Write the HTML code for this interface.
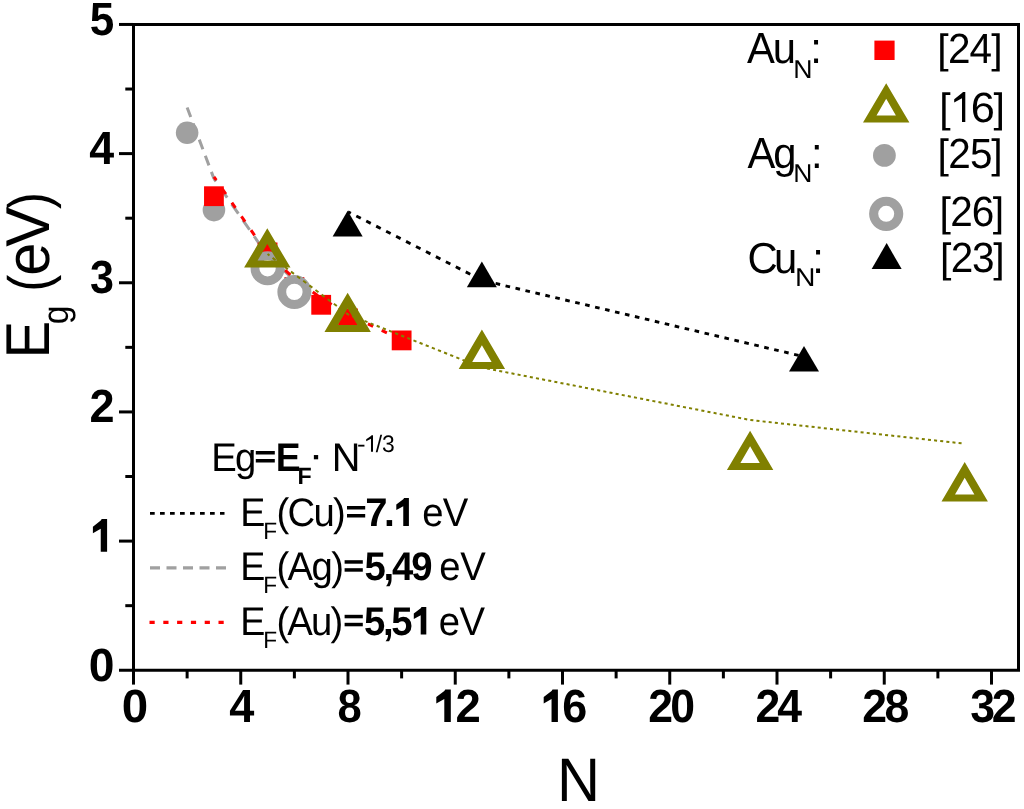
<!DOCTYPE html>
<html><head><meta charset="utf-8"><style>
html,body{margin:0;padding:0;background:#fff;overflow:hidden;width:1024px;height:809px;}
svg{display:block;will-change:transform;}
text{font-family:"Liberation Sans",sans-serif;text-rendering:geometricPrecision;}
</style></head><body>
<svg width="1024" height="809" viewBox="0 0 1024 809">
<line x1="187.12" y1="107.45" x2="213.94" y2="178.60" stroke="#a0a0a0" stroke-width="3" stroke-dasharray="10.259 6.946" stroke-dashoffset="0.000"/>
<line x1="213.94" y1="178.60" x2="267.56" y2="255.57" stroke="#a0a0a0" stroke-width="3" stroke-dasharray="11.700 7.922" stroke-dashoffset="8.226"/>
<line x1="267.56" y1="255.57" x2="294.38" y2="280.02" stroke="#a0a0a0" stroke-width="3" stroke-dasharray="12.992 8.797" stroke-dashoffset="4.367"/>
<line x1="213.94" y1="176.80" x2="267.56" y2="254.06" stroke="#ff0000" stroke-width="3" stroke-dasharray="6.330 10.469" stroke-dashoffset="2.191"/>
<line x1="267.56" y1="254.06" x2="294.38" y2="278.60" stroke="#ff0000" stroke-width="3" stroke-dasharray="7.049 11.658" stroke-dashoffset="13.634"/>
<line x1="294.38" y1="278.60" x2="321.19" y2="298.22" stroke="#ff0000" stroke-width="3" stroke-dasharray="6.443 10.656" stroke-dashoffset="11.486"/>
<line x1="321.19" y1="298.22" x2="348.00" y2="314.41" stroke="#ff0000" stroke-width="3" stroke-dasharray="6.075 10.047" stroke-dashoffset="9.910"/>
<line x1="348.00" y1="314.41" x2="401.62" y2="339.92" stroke="#ff0000" stroke-width="3" stroke-dasharray="5.758 9.523" stroke-dashoffset="8.521"/>
<line x1="348.00" y1="211.73" x2="482.06" y2="280.24" stroke="#000" stroke-width="2.9" stroke-dasharray="5.054 6.120" stroke-dashoffset="1.853"/>
<line x1="482.06" y1="280.24" x2="803.81" y2="356.63" stroke="#000" stroke-width="2.9" stroke-dasharray="4.625 5.601" stroke-dashoffset="6.539"/>
<circle cx="187.125" cy="132.7" r="11.3" fill="#a0a0a0"/>
<circle cx="213.9375" cy="210.1" r="11.3" fill="#a0a0a0"/>
<rect x="204.04" y="186.30" width="19.8" height="19.8" fill="#ff0000"/>
<rect x="257.66" y="242.50" width="19.8" height="19.8" fill="#ff0000"/>
<rect x="284.48" y="277.00" width="19.8" height="19.8" fill="#ff0000"/>
<rect x="311.29" y="294.90" width="19.8" height="19.8" fill="#ff0000"/>
<rect x="338.10" y="308.50" width="19.8" height="19.8" fill="#ff0000"/>
<rect x="391.73" y="330.50" width="19.8" height="19.8" fill="#ff0000"/>
<circle cx="267.5625" cy="268.2" r="12.6" fill="#fff" stroke="#a0a0a0" stroke-width="8.8"/>
<circle cx="294.375" cy="291.9" r="12.6" fill="#fff" stroke="#a0a0a0" stroke-width="8.8"/>
<line x1="267.56" y1="254.06" x2="348.00" y2="314.41" stroke="#808000" stroke-width="2" stroke-dasharray="3.751 3.907" stroke-dashoffset="1.375"/>
<line x1="348.00" y1="314.41" x2="482.06" y2="367.58" stroke="#808000" stroke-width="2" stroke-dasharray="3.227 3.362" stroke-dashoffset="2.057"/>
<line x1="482.06" y1="367.58" x2="750.19" y2="420.00" stroke="#808000" stroke-width="2" stroke-dasharray="3.057 3.184" stroke-dashoffset="1.248"/>
<line x1="750.19" y1="420.00" x2="964.69" y2="443.70" stroke="#808000" stroke-width="2" stroke-dasharray="3.018 3.144" stroke-dashoffset="6.011"/>
<path d="M267.30,228.30 L290.50,267.60 L244.10,267.60 Z M267.30,243.90 L277.00,260.60 L257.60,260.60 Z" fill="#808000" fill-rule="evenodd"/>
<path d="M347.65,292.80 L370.85,332.10 L324.45,332.10 Z M347.65,308.40 L357.35,325.10 L337.95,325.10 Z" fill="#808000" fill-rule="evenodd"/>
<path d="M481.90,329.60 L505.10,368.90 L458.70,368.90 Z M481.90,345.20 L491.60,361.90 L472.20,361.90 Z" fill="#808000" fill-rule="evenodd"/>
<path d="M750.10,430.70 L773.30,470.00 L726.90,470.00 Z M750.10,446.30 L759.80,463.00 L740.40,463.00 Z" fill="#808000" fill-rule="evenodd"/>
<path d="M964.70,462.10 L987.90,501.40 L941.50,501.40 Z M964.70,477.70 L974.40,494.40 L955.00,494.40 Z" fill="#808000" fill-rule="evenodd"/>
<polygon points="347.65,210.80 362.65,236.60 332.65,236.60" fill="#000"/>
<polygon points="481.85,261.60 496.85,287.30 466.85,287.30" fill="#000"/>
<polygon points="804.00,345.90 819.00,371.60 789.00,371.60" fill="#000"/>
<rect x="133.5" y="24.5" width="885" height="645.75" fill="none" stroke="#000" stroke-width="3"/>
<line x1="119" y1="670.25" x2="133.5" y2="670.25" stroke="#000" stroke-width="3"/>
<line x1="125.3" y1="605.67" x2="133.5" y2="605.67" stroke="#000" stroke-width="3"/>
<line x1="119" y1="541.09" x2="133.5" y2="541.09" stroke="#000" stroke-width="3"/>
<line x1="125.3" y1="476.51" x2="133.5" y2="476.51" stroke="#000" stroke-width="3"/>
<line x1="119" y1="411.93" x2="133.5" y2="411.93" stroke="#000" stroke-width="3"/>
<line x1="125.3" y1="347.35" x2="133.5" y2="347.35" stroke="#000" stroke-width="3"/>
<line x1="119" y1="282.77" x2="133.5" y2="282.77" stroke="#000" stroke-width="3"/>
<line x1="125.3" y1="218.19" x2="133.5" y2="218.19" stroke="#000" stroke-width="3"/>
<line x1="119" y1="153.61" x2="133.5" y2="153.61" stroke="#000" stroke-width="3"/>
<line x1="125.3" y1="89.03" x2="133.5" y2="89.03" stroke="#000" stroke-width="3"/>
<line x1="119" y1="24.45" x2="133.5" y2="24.45" stroke="#000" stroke-width="3"/>
<line x1="133.50" y1="670.25" x2="133.50" y2="684.6" stroke="#000" stroke-width="3"/>
<line x1="187.12" y1="670.25" x2="187.12" y2="678.4" stroke="#000" stroke-width="3"/>
<line x1="240.75" y1="670.25" x2="240.75" y2="684.6" stroke="#000" stroke-width="3"/>
<line x1="294.38" y1="670.25" x2="294.38" y2="678.4" stroke="#000" stroke-width="3"/>
<line x1="348.00" y1="670.25" x2="348.00" y2="684.6" stroke="#000" stroke-width="3"/>
<line x1="401.62" y1="670.25" x2="401.62" y2="678.4" stroke="#000" stroke-width="3"/>
<line x1="455.25" y1="670.25" x2="455.25" y2="684.6" stroke="#000" stroke-width="3"/>
<line x1="508.88" y1="670.25" x2="508.88" y2="678.4" stroke="#000" stroke-width="3"/>
<line x1="562.50" y1="670.25" x2="562.50" y2="684.6" stroke="#000" stroke-width="3"/>
<line x1="616.12" y1="670.25" x2="616.12" y2="678.4" stroke="#000" stroke-width="3"/>
<line x1="669.75" y1="670.25" x2="669.75" y2="684.6" stroke="#000" stroke-width="3"/>
<line x1="723.38" y1="670.25" x2="723.38" y2="678.4" stroke="#000" stroke-width="3"/>
<line x1="777.00" y1="670.25" x2="777.00" y2="684.6" stroke="#000" stroke-width="3"/>
<line x1="830.62" y1="670.25" x2="830.62" y2="678.4" stroke="#000" stroke-width="3"/>
<line x1="884.25" y1="670.25" x2="884.25" y2="684.6" stroke="#000" stroke-width="3"/>
<line x1="937.88" y1="670.25" x2="937.88" y2="678.4" stroke="#000" stroke-width="3"/>
<line x1="991.50" y1="670.25" x2="991.50" y2="684.6" stroke="#000" stroke-width="3"/>
<text transform="translate(91.20,35.00) scale(0.9869,1.0407) translate(-91.20,-35.00)" x="89.83" y="35.00" font-size="44.6" font-weight="bold" fill="#000">5</text>
<text transform="translate(89.90,164.10) scale(1.0046,1.0407) translate(-89.90,-164.10)" x="89.22" y="164.10" font-size="44.6" font-weight="bold" fill="#000">4</text>
<text transform="translate(91.00,293.40) scale(0.9653,1.0407) translate(-91.00,-293.40)" x="89.98" y="293.40" font-size="44.6" font-weight="bold" fill="#000">3</text>
<text transform="translate(91.10,422.40) scale(1.0106,1.0407) translate(-91.10,-422.40)" x="89.55" y="422.40" font-size="44.6" font-weight="bold" fill="#000">2</text>
<text transform="translate(90.60,680.70) scale(1.0372,1.0407) translate(-90.60,-680.70)" x="88.84" y="680.70" font-size="44.6" font-weight="bold" fill="#000">0</text>
<polygon points="107.10,551.70 107.10,519.00 101.72,519.00 100.74,520.60 92.90,526.68 92.90,533.22 100.74,528.78 100.74,551.70" fill="#000"/>
<text transform="translate(123.60,721.90) scale(1.0655,1.0407) translate(-123.60,-721.90)" x="121.84" y="721.90" font-size="44.6" font-weight="bold" fill="#000">0</text>
<text transform="translate(229.90,721.90) scale(1.0130,1.0407) translate(-229.90,-721.90)" x="229.22" y="721.90" font-size="44.6" font-weight="bold" fill="#000">4</text>
<text transform="translate(338.80,721.90) scale(0.9765,1.0407) translate(-338.80,-721.90)" x="337.38" y="721.90" font-size="44.6" font-weight="bold" fill="#000">8</text>
<text transform="translate(649.70,721.90) scale(1.0000,1.0407) translate(-649.70,-721.90)" x="648.15" y="721.90" font-size="44.6" font-weight="bold" fill="#000" letter-spacing="-2.63">20</text>
<text transform="translate(757.00,721.90) scale(1.0000,1.0407) translate(-757.00,-721.90)" x="755.45" y="721.90" font-size="44.6" font-weight="bold" fill="#000" letter-spacing="-2.92">24</text>
<text transform="translate(863.90,721.90) scale(1.0000,1.0407) translate(-863.90,-721.90)" x="862.35" y="721.90" font-size="44.6" font-weight="bold" fill="#000" letter-spacing="-2.69">28</text>
<text transform="translate(971.20,721.90) scale(1.0000,1.0407) translate(-971.20,-721.90)" x="970.18" y="721.90" font-size="44.6" font-weight="bold" fill="#000" letter-spacing="-3.10">32</text>
<polygon points="450.80,721.90 450.80,689.40 445.30,689.40 444.30,690.99 436.30,697.04 436.30,703.54 444.30,699.12 444.30,721.90" fill="#000"/>
<text transform="translate(457.00,721.90) scale(1.0199,1.0407) translate(-457.00,-721.90)" x="455.45" y="721.90" font-size="44.6" font-weight="bold" fill="#000">2</text>
<polygon points="557.90,721.90 557.90,689.40 552.52,689.40 551.54,690.99 543.70,697.04 543.70,703.54 551.54,699.12 551.54,721.90" fill="#000"/>
<text transform="translate(564.00,721.90) scale(1.0065,1.0407) translate(-564.00,-721.90)" x="562.37" y="721.90" font-size="44.6" font-weight="bold" fill="#000">6</text>
<text transform="translate(562.00,801.00) scale(1.0104,1.0407) translate(-562.00,-801.00)" x="557.16" y="801.00" font-size="59" font-weight="normal" fill="#000">N</text>
<g transform="translate(48.8,0) rotate(-90)">
<text transform="translate(-353.80,0.00) scale(0.9489,1.0407) translate(353.80,0.00)" x="-358.68" y="0.00" font-size="59.5" font-weight="normal" fill="#000">E</text>
<text transform="translate(-322.90,19.50) scale(0.9657,1.0407) translate(322.90,-19.50)" x="-324.37" y="19.50" font-size="35" font-weight="normal" fill="#000">g</text>
<text transform="translate(-288.70,0.00) scale(0.8734,1.0000) translate(288.70,0.00)" x="-292.32" y="0.00" font-size="58.3" font-weight="normal" fill="#000">(</text>
<text transform="translate(-273.20,0.00) scale(1.0000,1.0407) translate(273.20,0.00)" x="-275.73" y="0.00" font-size="59.5" font-weight="normal" fill="#000" letter-spacing="-4.09">eV</text>
<text transform="translate(-208.60,0.00) scale(0.8734,1.0000) translate(208.60,0.00)" x="-208.94" y="0.00" font-size="58.3" font-weight="normal" fill="#000">)</text>
</g>
<text transform="translate(747.00,63.20) scale(1.0000,1.0407) translate(-747.00,-63.20)" x="746.92" y="63.20" font-size="41.8" font-weight="normal" fill="#000" letter-spacing="-2.07">Au</text>
<text transform="translate(795.40,77.70) scale(1.0799,1.0407) translate(-795.40,-77.70)" x="793.37" y="77.70" font-size="24.7" font-weight="normal" fill="#000">N</text>
<text transform="translate(814.10,63.20) scale(1.0000,1.0407) translate(-814.10,-63.20)" x="810.28" y="63.20" font-size="41.8" font-weight="normal" fill="#000">:</text>
<text transform="translate(747.50,167.60) scale(1.0000,1.0407) translate(-747.50,-167.60)" x="747.42" y="167.60" font-size="41.8" font-weight="normal" fill="#000" letter-spacing="-2.05">Ag</text>
<text transform="translate(795.40,182.40) scale(1.0727,1.0407) translate(-795.40,-182.40)" x="793.37" y="182.40" font-size="24.7" font-weight="normal" fill="#000">N</text>
<text transform="translate(814.80,167.60) scale(1.0000,1.0407) translate(-814.80,-167.60)" x="810.98" y="167.60" font-size="41.8" font-weight="normal" fill="#000">:</text>
<text transform="translate(749.50,272.90) scale(1.0000,1.0407) translate(-749.50,-272.90)" x="747.38" y="272.90" font-size="41.8" font-weight="normal" fill="#000" letter-spacing="-3.64">Cu</text>
<text transform="translate(797.40,286.30) scale(1.1452,1.0407) translate(-797.40,-286.30)" x="795.37" y="286.30" font-size="24.7" font-weight="normal" fill="#000">N</text>
<text transform="translate(816.10,272.90) scale(1.0000,1.0407) translate(-816.10,-272.90)" x="812.28" y="272.90" font-size="41.8" font-weight="normal" fill="#000">:</text>
<text x="937.18" y="63.30" font-size="41" font-weight="normal" fill="#000">[</text>
<text x="991.33" y="63.30" font-size="41" font-weight="normal" fill="#000">]</text>
<text transform="translate(950.00,63.30) scale(1.0000,1.0407) translate(-950.00,-63.30)" x="947.96" y="63.30" font-size="40.5" font-weight="normal" fill="#000" letter-spacing="-0.92">24</text>
<text x="939.18" y="122.00" font-size="41" font-weight="normal" fill="#000">[</text>
<text x="993.53" y="122.00" font-size="41" font-weight="normal" fill="#000">]</text>
<polygon points="965.30,121.90 965.30,91.90 963.00,91.90 962.00,93.01 954.20,99.19 954.20,102.61 962.00,98.29 962.00,121.90" fill="#000"/>
<text transform="translate(973.00,122.00) scale(1.0702,1.0407) translate(-973.00,-122.00)" x="970.94" y="122.00" font-size="40.5" font-weight="normal" fill="#000">6</text>
<text x="937.38" y="167.60" font-size="41" font-weight="normal" fill="#000">[</text>
<text x="991.23" y="167.60" font-size="41" font-weight="normal" fill="#000">]</text>
<text transform="translate(950.20,167.60) scale(1.0000,1.0407) translate(-950.20,-167.60)" x="948.16" y="167.60" font-size="40.5" font-weight="normal" fill="#000" letter-spacing="-0.71">25</text>
<text x="939.38" y="226.00" font-size="41" font-weight="normal" fill="#000">[</text>
<text x="992.83" y="226.00" font-size="41" font-weight="normal" fill="#000">]</text>
<text transform="translate(952.20,226.00) scale(1.0000,1.0407) translate(-952.20,-226.00)" x="950.16" y="226.00" font-size="40.5" font-weight="normal" fill="#000" letter-spacing="-1.03">26</text>
<text x="939.98" y="272.00" font-size="41" font-weight="normal" fill="#000">[</text>
<text x="993.23" y="272.00" font-size="41" font-weight="normal" fill="#000">]</text>
<text transform="translate(952.80,272.00) scale(1.0000,1.0407) translate(-952.80,-272.00)" x="950.76" y="272.00" font-size="40.5" font-weight="normal" fill="#000" letter-spacing="-1.23">23</text>
<rect x="874.4" y="40.6" width="20.2" height="19.4" fill="#ff0000"/>
<path d="M886.20,83.20 L909.40,122.50 L863.00,122.50 Z M886.20,98.80 L895.90,115.50 L876.50,115.50 Z" fill="#808000" fill-rule="evenodd"/>
<circle cx="884.4" cy="155.4" r="11.4" fill="#a0a0a0"/>
<circle cx="886.2" cy="213.8" r="12.55" fill="#fff" stroke="#a0a0a0" stroke-width="9.1"/>
<polygon points="886.65,243.10 901.65,269.00 871.65,269.00" fill="#000"/>
<text transform="translate(214.30,470.70) scale(1.0000,1.0407) translate(-214.30,-470.70)" x="211.16" y="470.70" font-size="38.3" font-weight="normal" fill="#000" letter-spacing="-1.74">Eg</text>
<rect x="255.80" y="451.00" width="19.00" height="3.5"/>
<rect x="255.80" y="459.00" width="19.00" height="3.5"/>
<text transform="translate(278.20,470.70) scale(0.9727,1.0407) translate(-278.20,-470.70)" x="275.64" y="470.70" font-size="38.3" font-weight="bold" fill="#000">E</text>
<text transform="translate(299.10,484.10) scale(1.0292,1.0407) translate(-299.10,-484.10)" x="297.59" y="484.10" font-size="22.6" font-weight="bold" fill="#000">F</text>
<text transform="translate(313.80,468.30) scale(1.1791,1.0407) translate(-313.80,-468.30)" x="309.26" y="468.30" font-size="38.3" font-weight="normal" fill="#000">·</text>
<text transform="translate(334.90,471.00) scale(1.0377,1.0407) translate(-334.90,-471.00)" x="331.76" y="471.00" font-size="38.3" font-weight="normal" fill="#000">N</text>
<text transform="translate(358.10,451.70) scale(1.1268,1.0407) translate(-358.10,-451.70)" x="357.08" y="451.70" font-size="22.9" font-weight="normal" fill="#000">-</text>
<polygon points="373.00,451.70 373.00,435.30 371.59,435.30 370.98,435.91 366.20,439.29 366.20,441.15 370.98,438.79 370.98,451.70" fill="#000"/>
<text transform="translate(375.70,451.70) scale(1.0000,1.0407) translate(-375.70,-451.70)" x="375.70" y="451.70" font-size="22.9" font-weight="normal" fill="#000" letter-spacing="-0.09">/3</text>
<text transform="translate(243.30,525.70) scale(0.9827,1.0407) translate(-243.30,-525.70)" x="240.16" y="525.70" font-size="38.3" font-weight="normal" fill="#000">E</text>
<text transform="translate(265.20,538.90) scale(1.0049,1.0407) translate(-265.20,-538.90)" x="263.35" y="538.90" font-size="22.6" font-weight="normal" fill="#000">F</text>
<text transform="translate(278.80,525.70) scale(1.0000,1.0407) translate(-278.80,-525.70)" x="276.42" y="525.70" font-size="38.3" font-weight="normal" fill="#000" letter-spacing="-1.67">(Cu)</text>
<rect x="347.00" y="506.00" width="18.20" height="3.5"/>
<rect x="347.00" y="514.00" width="18.20" height="3.5"/>
<text transform="translate(423.80,525.70) scale(1.0000,1.0407) translate(-423.80,-525.70)" x="422.17" y="525.70" font-size="38.3" font-weight="normal" fill="#000" letter-spacing="-0.65">eV</text>
<text transform="translate(243.30,579.90) scale(0.9827,1.0407) translate(-243.30,-579.90)" x="240.16" y="579.90" font-size="38.3" font-weight="normal" fill="#000">E</text>
<text transform="translate(265.20,593.00) scale(1.0049,1.0407) translate(-265.20,-593.00)" x="263.35" y="593.00" font-size="22.6" font-weight="normal" fill="#000">F</text>
<text transform="translate(278.80,579.90) scale(1.0000,1.0407) translate(-278.80,-579.90)" x="276.42" y="579.90" font-size="38.3" font-weight="normal" fill="#000" letter-spacing="-1.60">(Ag)</text>
<rect x="344.60" y="560.20" width="18.20" height="3.5"/>
<rect x="344.60" y="568.20" width="18.20" height="3.5"/>
<text transform="translate(440.80,579.90) scale(1.0000,1.0407) translate(-440.80,-579.90)" x="439.17" y="579.90" font-size="38.3" font-weight="normal" fill="#000" letter-spacing="-0.15">eV</text>
<text transform="translate(243.30,634.50) scale(0.9827,1.0407) translate(-243.30,-634.50)" x="240.16" y="634.50" font-size="38.3" font-weight="normal" fill="#000">E</text>
<text transform="translate(265.20,648.00) scale(1.0049,1.0407) translate(-265.20,-648.00)" x="263.35" y="648.00" font-size="22.6" font-weight="normal" fill="#000">F</text>
<text transform="translate(278.80,634.50) scale(1.0000,1.0407) translate(-278.80,-634.50)" x="276.42" y="634.50" font-size="38.3" font-weight="normal" fill="#000" letter-spacing="-1.80">(Au)</text>
<rect x="344.60" y="614.80" width="18.20" height="3.5"/>
<rect x="344.60" y="622.80" width="18.20" height="3.5"/>
<text transform="translate(440.30,634.50) scale(1.0000,1.0407) translate(-440.30,-634.50)" x="438.67" y="634.50" font-size="38.3" font-weight="normal" fill="#000" letter-spacing="-0.35">eV</text>
<text transform="translate(367.00,525.90) scale(1.0461,1.0407) translate(-367.00,-525.90)" x="365.35" y="525.90" font-size="38.3" font-weight="bold" fill="#000">7</text>
<text transform="translate(386.70,525.90) scale(1.0176,1.0407) translate(-386.70,-525.90)" x="384.10" y="525.90" font-size="38.3" font-weight="bold" fill="#000">.</text>
<polygon points="408.90,525.90 408.90,497.90 404.12,497.90 403.26,499.27 396.30,504.48 396.30,510.08 403.26,506.27 403.26,525.90" fill="#000"/>
<text transform="translate(365.60,580.20) scale(1.0000,1.0407) translate(-365.60,-580.20)" x="364.42" y="580.20" font-size="38.3" font-weight="bold" fill="#000" letter-spacing="-2.15">5,49</text>
<text transform="translate(365.10,634.80) scale(1.0000,1.0407) translate(-365.10,-634.80)" x="363.92" y="634.80" font-size="38.3" font-weight="bold" fill="#000" letter-spacing="-2.25">5,5</text>
<polygon points="426.30,634.60 426.30,607.00 421.56,607.00 420.70,608.35 413.80,613.49 413.80,619.01 420.70,615.25 420.70,634.60" fill="#000"/>
<line x1="150" y1="513.3" x2="224.5" y2="513.3" stroke="#000" stroke-width="2.7" stroke-dasharray="4.7 5.3"/>
<line x1="150" y1="567.8" x2="226" y2="567.8" stroke="#a0a0a0" stroke-width="3.3" stroke-dasharray="10 6.5"/>
<line x1="149.5" y1="622.3" x2="224" y2="622.3" stroke="#ff0000" stroke-width="3.3" stroke-dasharray="5.2 8.6"/>
</svg></body></html>
